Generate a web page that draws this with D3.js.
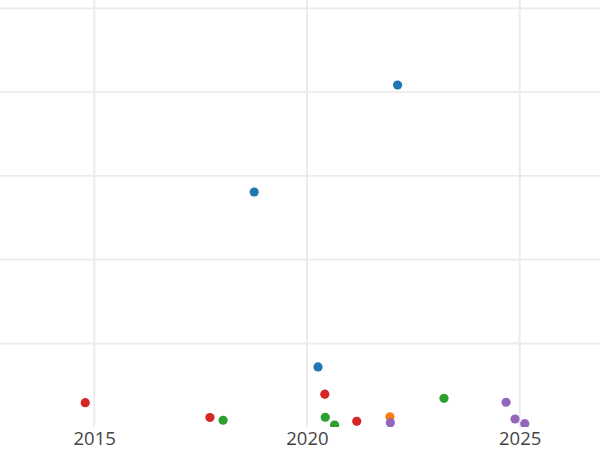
<!DOCTYPE html>
<html>
<head>
<meta charset="utf-8">
<script src="https://cdn.jsdelivr.net/npm/d3@7"></script>
<style>
  body { margin: 0; background: #fff; }
  svg { display: block; }
</style>
</head>
<body>
<svg id="chart"></svg>
<script>
'use strict';

// data (year, value)
const seriesNames = [ 'A', 'B', 'C', 'D', 'E' ];
const seriesA = [ [2022.13, 408.5], [2018.76, 280.8], [2020.26, 72] ];
const seriesB = [ [2021.95, 12.5] ];
const seriesC = [ [2018.03, 8.4], [2020.43, 12], [2020.65, 2.7], [2023.22, 34.6] ];
const seriesD = [ [2014.79, 29.4], [2017.72, 11.7], [2020.42, 39.5], [2021.17, 7.1] ];
const seriesE = [ [2021.96, 5.5], [2024.68, 29.9], [2024.89, 9.9], [2025.12, 4.3] ];
const xTicks = [ 2015, 2020, 2025 ];
const yTicks = [ 100, 200, 300, 400, 500 ];

const width = 600, height = 450;
const plotBottom = 427;

const svg = d3.select( '#chart' )
              .attr( 'width', width )
              .attr( 'height', height );

// scales
const x = d3.scaleLinear()
            .domain( [ 2015, 2025 ] )
            .range( [ 94.2, 519.7 ] );
const y = d3.scaleLinear()
            .domain( [ 0, 500 ] )
            .range( [ 427.3, 8.3 ] );
const color = d3.scaleOrdinal()
                .domain( seriesNames )
                .range( d3.schemeCategory10 );

svg.append( 'defs' )
   .append( 'clipPath' )
     .attr( 'id', 'plotclip' )
   .append( 'rect' )
     .attr( 'x', 0 ).attr( 'y', 0 )
     .attr( 'width', width ).attr( 'height', plotBottom );

// gridlines
const grid = svg.append( 'g' ).attr( 'class', 'grid' ).attr( 'clip-path', 'url(#plotclip)' );
grid.selectAll( '.hgrid' )
    .data( yTicks )
  .enter().append( 'line' )
    .attr( 'x1', 0 ).attr( 'x2', width )
    .attr( 'y1', (d) => y( d ) ).attr( 'y2', (d) => y( d ) )
    .style( 'stroke', '#ebebeb' )
    .style( 'stroke-width', 1.8 );
grid.selectAll( '.vgrid' )
    .data( xTicks )
  .enter().append( 'line' )
    .attr( 'x1', (d) => x( d ) ).attr( 'x2', (d) => x( d ) )
    .attr( 'y1', 0 ).attr( 'y2', plotBottom )
    .style( 'stroke', '#ebebeb' )
    .style( 'stroke-width', 2 );

// x-axis labels only
const xAxis = d3.axisBottom( x )
                .tickValues( xTicks )
                .tickFormat( d3.format( 'd' ) )
                .tickSize( 0 )
                .tickPadding( 0 );
const ax = svg.append( 'g' )
              .attr( 'class', 'x axis' )
              .attr( 'transform', 'translate(0,' + plotBottom + ')' )
              .call( xAxis );
ax.select( '.domain' ).remove();
ax.selectAll( 'text' )
  .attr( 'dy', null )
  .attr( 'y', 17.5 )
  .style( 'font-family', '"Open Sans", sans-serif' )
  .style( 'font-size', '18.5px' )
  .style( 'fill', '#444' );

// points
const series = [ seriesA, seriesB, seriesC, seriesD, seriesE ];
const points = svg.append( 'g' ).attr( 'class', 'points' ).attr( 'clip-path', 'url(#plotclip)' );
series.forEach( (values, i) => {
  points.selectAll( '.pt' + i )
        .data( values )
      .enter().append( 'circle' )
        .attr( 'cx', (d) => x( d[0] ) )
        .attr( 'cy', (d) => y( d[1] ) )
        .attr( 'r', 4.6 )
        .style( 'fill', color( seriesNames[i] ) );
});
</script>
</body>
</html>
